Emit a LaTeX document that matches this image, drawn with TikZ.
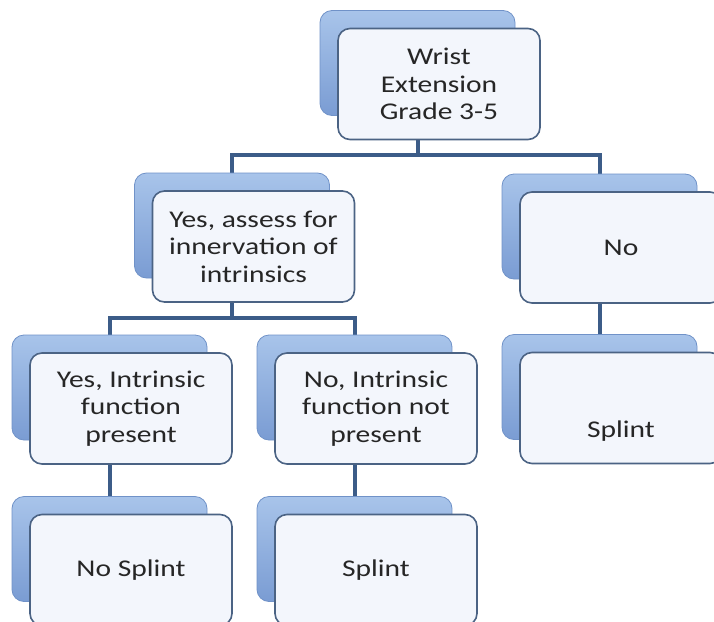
\documentclass[tikz,border=0pt]{standalone}
\usepackage{fontspec}
\setmainfont{Carlito}[FakeStretch=1.23]
\usetikzlibrary{backgrounds,calc}
\definecolor{backtop}{HTML}{A8C4EA}
\definecolor{backbot}{HTML}{7A9CD3}
\definecolor{backline}{HTML}{7092C8}
\definecolor{frontfill}{HTML}{F3F6FC}
\definecolor{frontline}{HTML}{4B6384}
\definecolor{conn}{HTML}{3C5C88}
\definecolor{txt}{HTML}{262626}
\tikzset{
  backbox/.style={draw=backline, line width=0.8pt, rounded corners=12pt,
    top color=backtop, bottom color=backbot, minimum width=195pt, minimum height=105pt, inner sep=0pt},
  frontbox/.style={draw=frontline, line width=1.6pt, rounded corners=12pt, fill=frontfill,
    minimum width=202pt, minimum height=111pt, inner sep=0pt, align=center,
    font=\fontsize{24pt}{27.5pt}\selectfont, text=txt},
  link/.style={draw=conn, line width=4pt}
}
\begin{document}
\begin{tikzpicture}[x=1pt,y=-1pt]
\useasboundingbox (0,0) rectangle (714,621);
\clip (0,0) rectangle (714,621);
% back boxes
\node[backbox] (topb)  at (417.5,63)  {};
\node[backbox] (yesb)  at (232,225.5) {};
\node[backbox] (nob)   at (599.5,226.5) {};
\node[backbox] (yesIb) at (109.5,387.5) {};
\node[backbox] (noIb)  at (354.5,387.5) {};
\node[backbox] (spLb)  at (109.5,549) {};
\node[backbox] (spMb)  at (354.5,549) {};
\node[backbox] (spRb)  at (599.5,387) {};
% front boxes
\node[frontbox] (top)  at (439,84) {Wrist\\Extension\\Grade 3-5};
\node[frontbox] (yes)  at (253.5,246.5) {Yes, assess for\\innervation of\\intrinsics};
\node[frontbox] (no)   at (621,247.5) {No};
\node[frontbox] (yesI) at (131,408.5) {Yes, Intrinsic\\function\\present};
\node[frontbox] (noI)  at (376,408.5) {No, Intrinsic\\function not\\present};
\node[frontbox] (spL)  at (131,570) {No Splint};
\node[frontbox] (spM)  at (376,570) {Splint};
\node[frontbox] (spR) at (621,408) {\raisebox{-29pt}[0pt][0pt]{Splint}};
% connectors
\coordinate (bus1) at (0,155);
\coordinate (bus2) at (0,318);
\begin{pgfonlayer}{background}
\fill[white] (0,0) rectangle (714,621);
\draw[link] (topb.south) -- (topb.south |- bus1);
\draw[link] (yesb.north) |- (nob.north |- bus1) -- (nob.north);
\draw[link] (yesb.south) -- (yesb.south |- bus2);
\draw[link] (yesIb.north) |- (noIb.north |- bus2) -- (noIb.north);
\draw[link] (yesIb.south) -- (spLb.north);
\draw[link] (noIb.south) -- (spMb.north);
\draw[link] (nob.south) -- (spRb.north);
\end{pgfonlayer}
\end{tikzpicture}
\end{document}
